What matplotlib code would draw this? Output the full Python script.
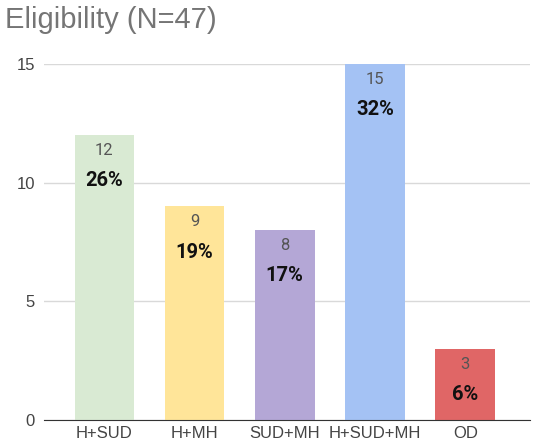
import matplotlib.pyplot as plt

categories = ["H+SUD", "H+MH", "SUD+MH", "H+SUD+MH", "OD"]
counts = [12, 9, 8, 15, 3]
percents = ["26%", "19%", "17%", "32%", "6%"]
colors = ["#d9ead3", "#ffe599", "#b4a7d6", "#a4c2f4", "#e06666"]

fig = plt.figure(figsize=(5.41, 4.46), dpi=100)
ax = fig.add_axes([0.081, 0.058, 0.899, 0.799])

x = range(len(categories))
bars = ax.bar(x, counts, width=0.66, color=colors, zorder=2)

for xi, c, p in zip(x, counts, percents):
    ax.annotate(str(c), (xi, c), xytext=(0, -11), textcoords="offset points",
                ha="center", va="center", fontsize=12, color="#555555",
                family="Roboto")
    ax.annotate(p, (xi, c), xytext=(0, -33), textcoords="offset points",
                ha="center", va="center", fontsize=14.5, fontweight="bold",
                color="#111111", family="Roboto")

ax.set_xlim(-0.67, 4.72)
ax.set_ylim(0, 15)
ax.set_yticks([0, 5, 10, 15])
ax.set_xticks(list(x))
ax.set_xticklabels(categories)
ax.grid(axis="y", color="#d9d9d9", linewidth=1, zorder=0)
for s in ["top", "right", "left"]:
    ax.spines[s].set_visible(False)
ax.spines["bottom"].set_color("#333333")
ax.spines["bottom"].set_zorder(3)
ax.tick_params(length=0, labelsize=12, colors="#444444", pad=4)
ax.tick_params(axis="y", pad=6.5)
for lbl in ax.get_xticklabels() + ax.get_yticklabels():
    lbl.set_family("Liberation Sans")

fig.text(0.009, 0.955, "Eligibility (N=47)", fontsize=21, color="#757575",
         family="Liberation Sans", va="center", ha="left")

fig.savefig("out.png", dpi=100)
